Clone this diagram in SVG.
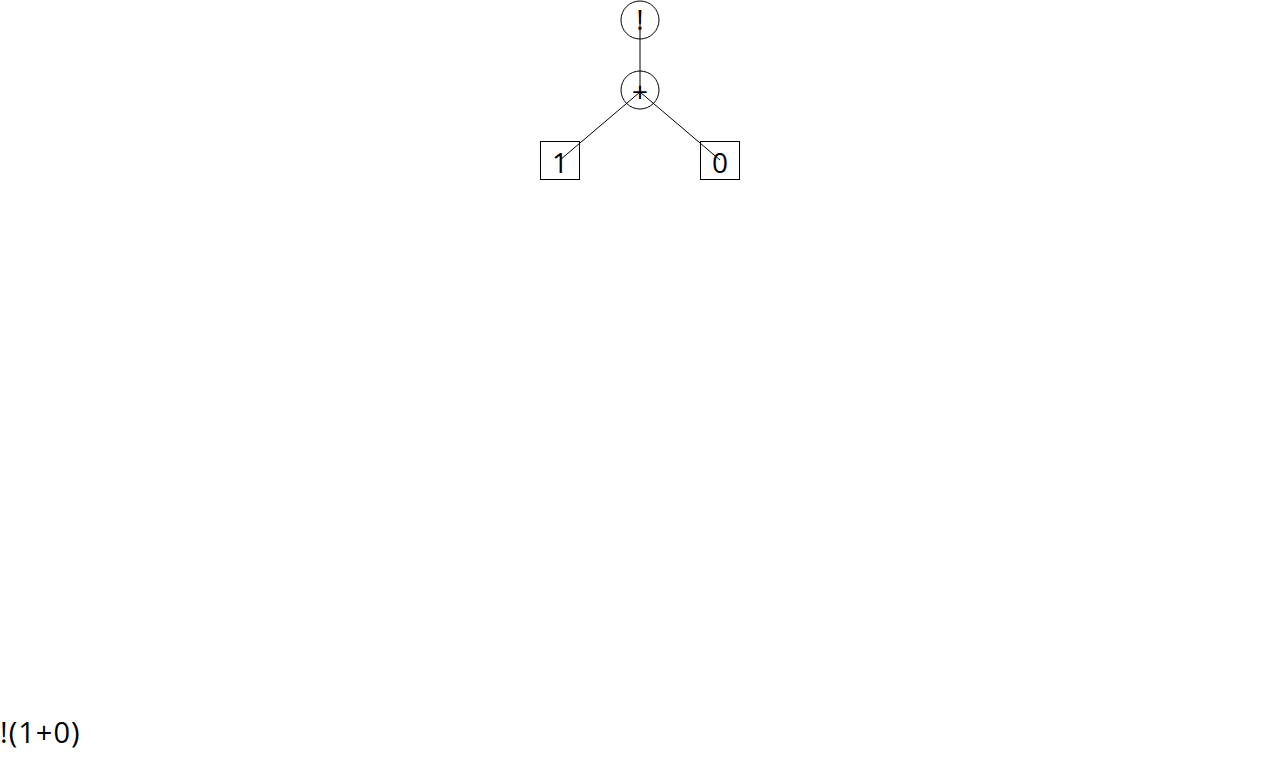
<svg xmlns="http://www.w3.org/2000/svg" width="1280" height="760" viewBox="0 0 1280 760">
<style>
.n{fill:none;stroke:#000;stroke-width:1}
.t{font-family:"Open Sans",sans-serif;font-size:28px;fill:#000;text-anchor:middle}
.e{stroke:#000;stroke-width:1;fill:none}
</style>
<rect width="1280" height="760" fill="#fff"/>
<g id="connectors">
<line class="e" x1="640" y1="20" x2="640" y2="92"/>
<line class="e" x1="640" y1="92" x2="560" y2="160"/>
<line class="e" x1="640" y1="92" x2="720" y2="160"/>
</g>
<g id="not"><circle class="n" cx="640" cy="20" r="19"/><text class="t" x="640" y="30">!</text></g>
<g id="plus"><circle class="n" cx="640" cy="90" r="19"/><text class="t" x="640" y="102">+</text></g>
<g id="one"><rect class="n" x="540.5" y="141.5" width="39" height="38"/><text class="t" x="560" y="173">1</text></g>
<g id="zero"><rect class="n" x="700.5" y="141.5" width="39" height="38"/><text class="t" x="720" y="173">0</text></g>
<text x="0" y="743" style="font-family:'Open Sans',sans-serif;font-size:29px;letter-spacing:1px">!(1+0)</text>
</svg>
